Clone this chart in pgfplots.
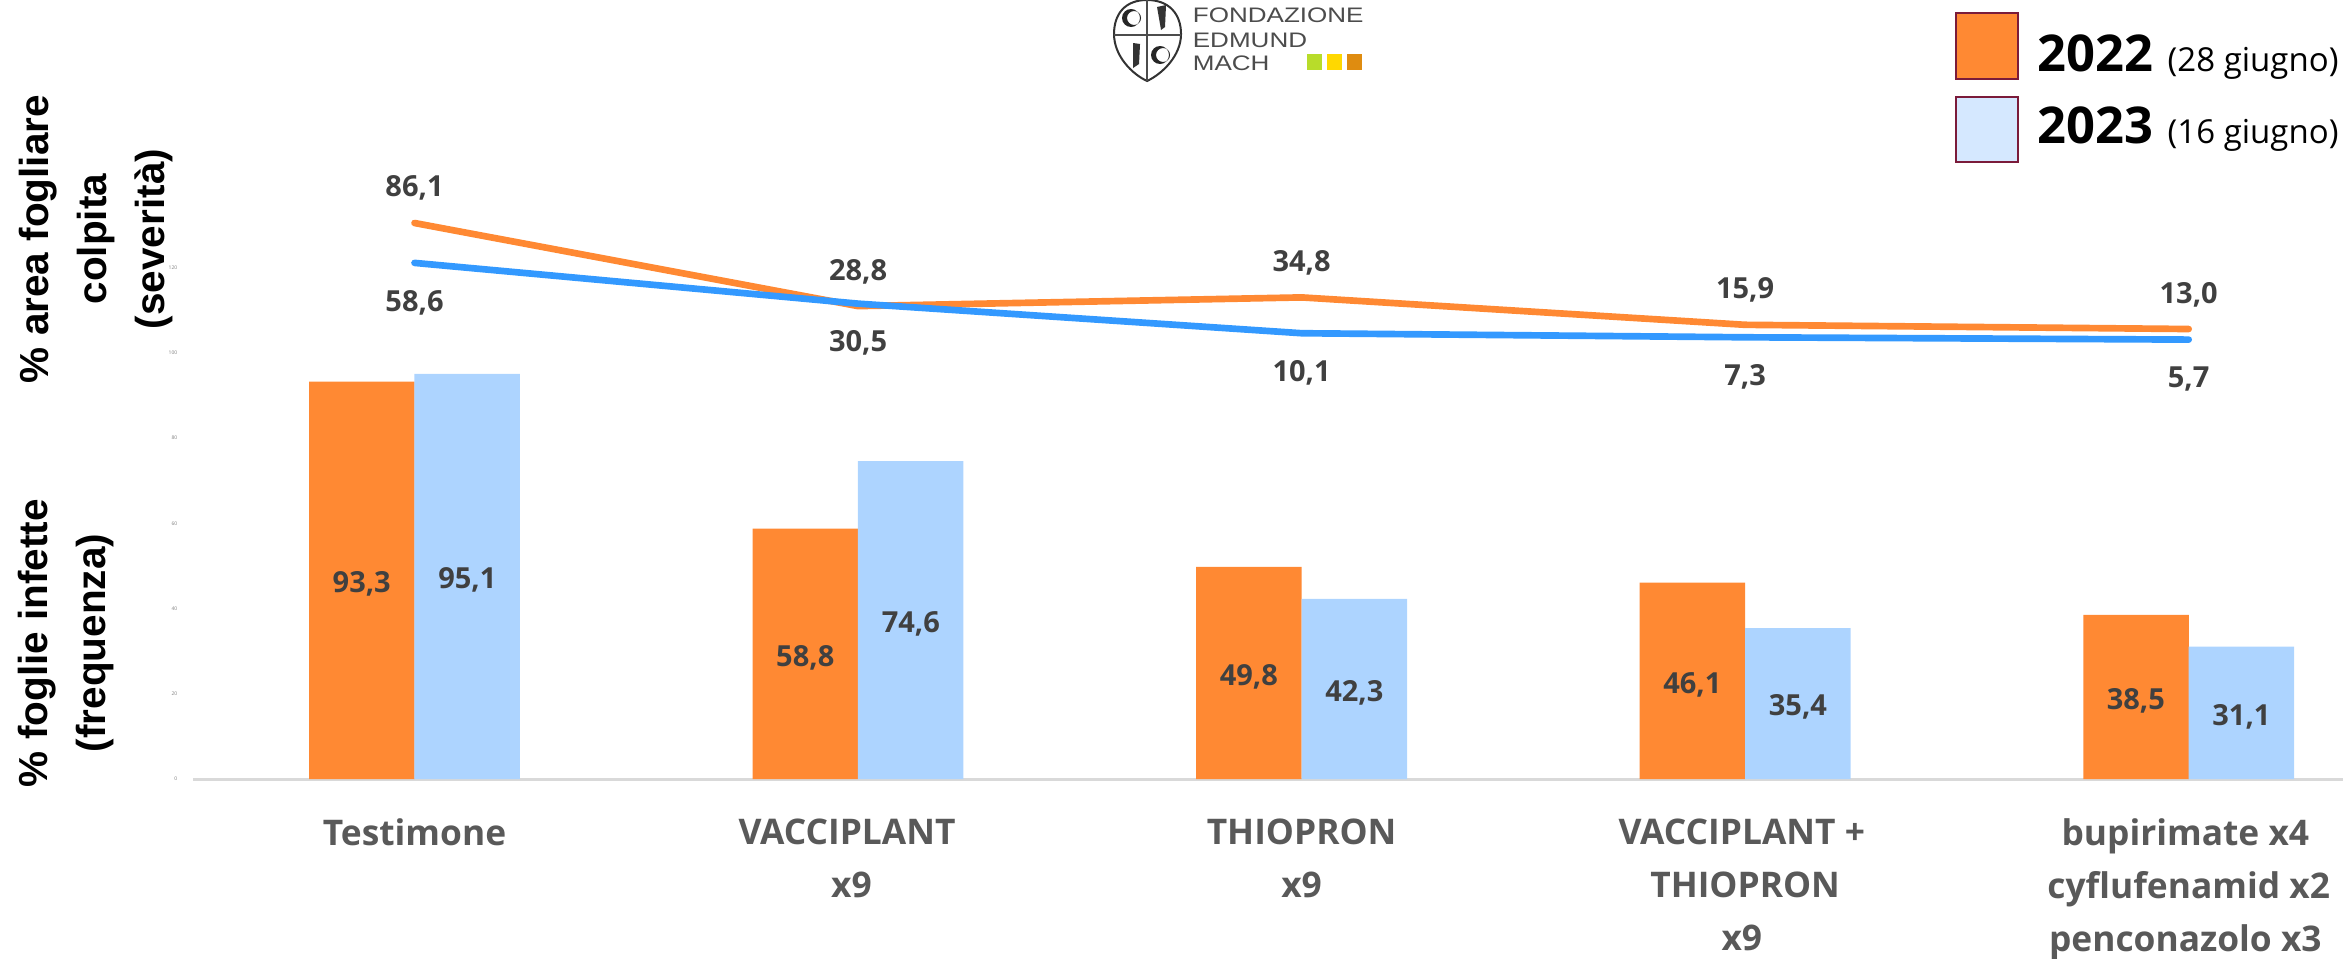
\documentclass[border=0pt]{standalone}
\usepackage{pgfplots}
\usepackage{pgfplotstable}
\usepackage{fontspec}
\pgfplotsset{compat=1.18}
\setmainfont{Open Sans}
\newfontfamily\arialf{Liberation Sans}
\definecolor{cor}{HTML}{FF8933}
\definecolor{cbl}{HTML}{ADD4FF}
\definecolor{lbl}{HTML}{3399FF}
\definecolor{ctx}{HTML}{404040}
\definecolor{cat}{HTML}{595959}
\definecolor{bas}{HTML}{D9D9D9}
\definecolor{frame}{HTML}{7B1B3A}
\definecolor{lgb}{HTML}{D5E8FF}
\definecolor{lg1}{HTML}{B8DC2A}
\definecolor{lg2}{HTML}{FFD800}
\definecolor{lg3}{HTML}{DF8C10}
\pgfplotstableread{
x  f22  f23  s22  s23
0  93.3 95.1 86.1 58.6
1  58.8 74.6 28.8 30.5
2  49.8 42.3 34.8 10.1
3  46.1 35.4 15.9 7.3
4  38.5 31.1 13.0 5.7
}\data
\tikzset{
  vlab/.style={font=\bfseries\fontsize{8.7}{10}\selectfont,text=ctx,anchor=center,inner sep=0pt},
}
\newcommand{\vfmt}{\pgfmathprintnumber[fixed,fixed zerofill,precision=1,use comma,assume math mode=true]{\pgfplotspointmeta}}
\begin{document}
\begin{tikzpicture}
\useasboundingbox (0,0) rectangle (702.9pt,287.4pt);
\begin{axis}[
  at={(57.9pt,53.7pt)},anchor=south west,scale only axis,
  width=645pt,height=179.7pt,
  xmin=-0.4994,xmax=4.348,ymin=0,ymax=140.6,
  axis x line*=bottom,axis y line*=left,
  x axis line style={draw=bas,line width=0.9pt},
  y axis line style={draw=none},
  major tick length=0pt,
  xtick={0,1,2,3,4},
  xticklabels={
    Testimone,
    VACCIPLANT\hspace*{6.6pt}\\x9\hspace*{4pt},
    THIOPRON\\x9,
    VACCIPLANT +\hspace*{2pt}\\THIOPRON\hspace*{2pt}\\x9\hspace*{2pt},
    bupirimate x4\hspace*{2pt}\\cyflufenamid x2\\penconazolo x3\hspace*{2pt}},
  xticklabel style={align=center,anchor=north,yshift=-8.5pt,text=cat,font=\bfseries\fontsize{10.6}{15.8}\selectfont},
  ytick={0,20,...,120},
  /pgf/number format/assume math mode=true,
  yticklabel style={font=\fontsize{1.5}{2}\selectfont,text=gray,xshift=-1.2pt},
  clip=false,
]
\addplot[ybar,bar width=31.65pt,bar shift=-15.8pt,fill=cor,draw=none] table[x=x,y=f22]{\data};
\addplot[ybar,bar width=31.65pt,bar shift=15.8pt,fill=cbl,draw=none] table[x=x,y=f23]{\data};
\addplot[draw=none,mark=none,point meta=explicit,nodes near coords={\vfmt},
  nodes near coords style={vlab,yshift=-1.1pt}]
  table[x expr=\thisrow{x}-0.119,y expr=\thisrow{f22}/2,meta=f22]{\data};
\addplot[draw=none,mark=none,point meta=explicit,nodes near coords={\vfmt},
  nodes near coords style={vlab,yshift=-1.1pt}]
  table[x expr=\thisrow{x}+0.119,y expr=\thisrow{f23}/2,meta=f23]{\data};
\end{axis}
\begin{axis}[
  at={(57.9pt,53.7pt)},anchor=south west,scale only axis,
  width=645pt,height=179.7pt,
  xmin=-0.4994,xmax=4.348,ymin=-297.3,ymax=115.76,
  hide axis,clip=false,
]
\addplot[cor,line width=2pt,line cap=round,line join=round,mark=none,point meta=explicit,
  nodes near coords={\vfmt},nodes near coords style={vlab,yshift=10.4pt}]
  table[x=x,y=s22,meta=s22]{\data};
\addplot[lbl,line width=2pt,line cap=round,line join=round,mark=none,point meta=explicit,
  nodes near coords={\vfmt},nodes near coords style={vlab,yshift=-11.9pt}]
  table[x=x,y=s23,meta=s23]{\data};
\end{axis}
\begin{scope}[x=0.3pt,y=-0.3pt,yshift=287.4pt]
  % y titles
  \node[rotate=90,align=center,inner sep=0pt,font=\arialf\bfseries\fontsize{12.15}{17.4}\selectfont] at (96,239) {\% area fogliare\\colpita\\(severit\`a)};
  \node[rotate=90,align=center,inner sep=0pt,font=\arialf\bfseries\fontsize{12.15}{17.4}\selectfont] at (66,643) {\% foglie infette\\(frequenza)};
  % legend
  \draw[frame,line width=0.65pt,fill=cor] (1956,13) rectangle (2018,79);
  \draw[frame,line width=0.65pt,fill=lgb] (1956,97) rectangle (2018,162);
  \node[anchor=base west,inner sep=0pt,font=\bfseries\fontsize{15.2}{18}\selectfont] at (2037,71) {2022};
  \node[anchor=base west,inner sep=0pt,font=\bfseries\fontsize{15.2}{18}\selectfont] at (2037,143) {2023};
  \node[anchor=base west,inner sep=0pt,font=\fontsize{9.9}{12}\selectfont] at (2167,71) {(28 giugno)};
  \node[anchor=base west,inner sep=0pt,font=\fontsize{9.9}{12}\selectfont] at (2167,143) {(16 giugno)};
  % logo
  \draw[black!80,line width=0.6pt,fill=white] (1147,0) .. controls (1125,0) and (1114,14) .. (1114,34) .. controls (1114,56) and (1132,74) .. (1147,81) .. controls (1162,74) and (1181,56) .. (1181,34) .. controls (1181,14) and (1169,0) .. (1147,0) -- cycle;
  \draw[black!70,line width=0.35pt] (1147,0) -- (1147,81) (1114,35) -- (1181,35);
  \fill[black!85,even odd rule] (1131,18) circle (2.7pt) (1134,18) circle (2.1pt);
  \fill[black!85,even odd rule] (1160,55) circle (2.7pt) (1163,55) circle (2.1pt);
  \fill[black!80] (1157,7) -- (1166,5) -- (1165,27) -- (1161,30) -- cycle;
  \fill[black!80] (1133,43) -- (1140,44) -- (1139,64) -- (1133,68) -- cycle;
  \node[anchor=base west,inner sep=0pt,text=black!70,xscale=1.24,font=\arialf\fontsize{6.3}{8}\selectfont] at (1192,23) {FONDAZIONE};
  \node[anchor=base west,inner sep=0pt,text=black!70,xscale=1.24,font=\arialf\fontsize{6.3}{8}\selectfont] at (1192,47) {EDMUND};
  \node[anchor=base west,inner sep=0pt,text=black!70,xscale=1.24,font=\arialf\fontsize{6.3}{8}\selectfont] at (1192,70) {MACH};
  \fill[lg1] (1307,54) rectangle (1322,70);
  \fill[lg2] (1327,54) rectangle (1342,70);
  \fill[lg3] (1347,54) rectangle (1362,70);
\end{scope}
\end{tikzpicture}
\end{document}
